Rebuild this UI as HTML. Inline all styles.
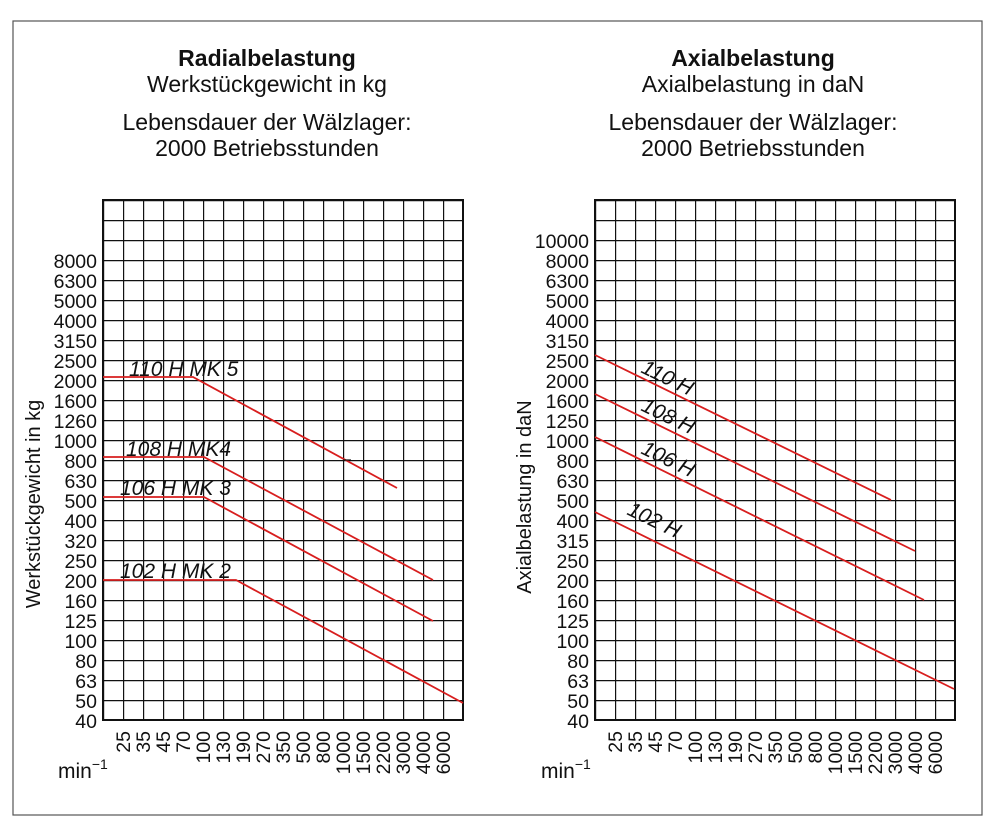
<!DOCTYPE html>
<html><head><meta charset="utf-8"><style>body{margin:0;background:#fff}</style></head><body>
<svg width="1000" height="835" xmlns="http://www.w3.org/2000/svg" font-family="Liberation Sans, sans-serif">
<defs>
<pattern id="gp" patternUnits="userSpaceOnUse" x="103" y="200" width="20" height="20">
<path d="M0 0H20M0 0V20" stroke="#111" stroke-width="2.4" fill="none"/>
</pattern>
<pattern id="gp2" patternUnits="userSpaceOnUse" x="595" y="200" width="20" height="20">
<path d="M0 0H20M0 0V20" stroke="#111" stroke-width="2.4" fill="none"/>
</pattern>
</defs>
<rect x="13" y="21" width="969" height="794" fill="none" stroke="#555" stroke-width="1.2"/>
<g text-anchor="middle" fill="#111">
<text x="267" y="66" font-size="23" font-weight="bold">Radialbelastung</text>
<text x="267" y="92" font-size="23">Werkstückgewicht in kg</text>
<text x="267" y="130" font-size="23">Lebensdauer der Wälzlager:</text>
<text x="267" y="156" font-size="23">2000 Betriebsstunden</text>
<text x="753" y="66" font-size="23" font-weight="bold">Axialbelastung</text>
<text x="753" y="92" font-size="23">Axialbelastung in daN</text>
<text x="753" y="130" font-size="23">Lebensdauer der Wälzlager:</text>
<text x="753" y="156" font-size="23">2000 Betriebsstunden</text>
</g>
<rect x="103" y="200" width="360" height="520" fill="url(#gp)"/>
<rect x="103" y="200" width="360" height="520" fill="none" stroke="#111" stroke-width="2"/>
<rect x="595" y="200" width="360" height="520" fill="url(#gp2)"/>
<rect x="595" y="200" width="360" height="520" fill="none" stroke="#111" stroke-width="2"/>

<g fill="#111" font-size="19.5" text-anchor="end">
<text x="97" y="268">8000</text><text x="97" y="288">6300</text><text x="97" y="308">5000</text><text x="97" y="328">4000</text><text x="97" y="348">3150</text><text x="97" y="368">2500</text><text x="97" y="388">2000</text><text x="97" y="408">1600</text><text x="97" y="428">1260</text><text x="97" y="448">1000</text><text x="97" y="468">800</text><text x="97" y="488">630</text><text x="97" y="508">500</text><text x="97" y="528">400</text><text x="97" y="548">320</text><text x="97" y="568">250</text><text x="97" y="588">200</text><text x="97" y="608">160</text><text x="97" y="628">125</text><text x="97" y="648">100</text><text x="97" y="668">80</text><text x="97" y="688">63</text><text x="97" y="708">50</text><text x="97" y="728">40</text>

<text x="589" y="248">10000</text><text x="589" y="268">8000</text><text x="589" y="288">6300</text><text x="589" y="308">5000</text><text x="589" y="328">4000</text><text x="589" y="348">3150</text><text x="589" y="368">2500</text><text x="589" y="388">2000</text><text x="589" y="408">1600</text><text x="589" y="428">1250</text><text x="589" y="448">1000</text><text x="589" y="468">800</text><text x="589" y="488">630</text><text x="589" y="508">500</text><text x="589" y="528">400</text><text x="589" y="548">315</text><text x="589" y="568">250</text><text x="589" y="588">200</text><text x="589" y="608">160</text><text x="589" y="628">125</text><text x="589" y="648">100</text><text x="589" y="668">80</text><text x="589" y="688">63</text><text x="589" y="708">50</text><text x="589" y="728">40</text>

<text transform="translate(130,731) rotate(-90)">25</text><text transform="translate(150,731) rotate(-90)">35</text><text transform="translate(170,731) rotate(-90)">45</text><text transform="translate(190,731) rotate(-90)">70</text><text transform="translate(210,731) rotate(-90)">100</text><text transform="translate(230,731) rotate(-90)">130</text><text transform="translate(250,731) rotate(-90)">190</text><text transform="translate(270,731) rotate(-90)">270</text><text transform="translate(290,731) rotate(-90)">350</text><text transform="translate(310,731) rotate(-90)">500</text><text transform="translate(330,731) rotate(-90)">800</text><text transform="translate(350,731) rotate(-90)">1000</text><text transform="translate(370,731) rotate(-90)">1500</text><text transform="translate(390,731) rotate(-90)">2200</text><text transform="translate(410,731) rotate(-90)">3000</text><text transform="translate(430,731) rotate(-90)">4000</text><text transform="translate(450,731) rotate(-90)">6000</text>

<text transform="translate(622,731) rotate(-90)">25</text><text transform="translate(642,731) rotate(-90)">35</text><text transform="translate(662,731) rotate(-90)">45</text><text transform="translate(682,731) rotate(-90)">70</text><text transform="translate(702,731) rotate(-90)">100</text><text transform="translate(722,731) rotate(-90)">130</text><text transform="translate(742,731) rotate(-90)">190</text><text transform="translate(762,731) rotate(-90)">270</text><text transform="translate(782,731) rotate(-90)">350</text><text transform="translate(802,731) rotate(-90)">500</text><text transform="translate(822,731) rotate(-90)">800</text><text transform="translate(842,731) rotate(-90)">1000</text><text transform="translate(862,731) rotate(-90)">1500</text><text transform="translate(882,731) rotate(-90)">2200</text><text transform="translate(902,731) rotate(-90)">3000</text><text transform="translate(922,731) rotate(-90)">4000</text><text transform="translate(942,731) rotate(-90)">6000</text>
</g>

<g stroke="#d81e1e" stroke-width="1.8" fill="none">
<polyline points="103,377 193,377 397,488"/>
<polyline points="103,457 204,457 433,580"/>
<polyline points="103,497 204,497 433,621"/>
<polyline points="103,580 236,580 463,703"/>
<line x1="595" y1="355" x2="891" y2="500"/>
<line x1="595" y1="394" x2="915" y2="551"/>
<line x1="595" y1="437" x2="924" y2="600"/>
<line x1="595" y1="512" x2="954" y2="689"/>
</g>
<line x1="343" y1="460" x2="351" y2="460" stroke="#111" stroke-width="1.2"/>
<g font-size="21" font-style="italic" fill="#111">
<text x="129" y="376">110 H MK 5</text>
<text x="126" y="456">108 H MK4</text>
<text x="120" y="495">106 H MK 3</text>
<text x="120" y="578">102 H MK 2</text>
<text transform="translate(640,372) rotate(26)">110 H</text>
<text transform="translate(640,410) rotate(26)">108 H</text>
<text transform="translate(640,453) rotate(26)">106 H</text>
<text transform="translate(626,514) rotate(26)">102 H</text>
</g>
<g font-size="20" fill="#111" text-anchor="middle">
<text transform="translate(40,504) rotate(-90)">Werkstückgewicht in kg</text>
<text transform="translate(531,497) rotate(-90)">Axialbelastung in daN</text>
</g>
<g font-size="21" fill="#111">
<text x="58" y="778">min<tspan font-size="14" dy="-9">−1</tspan></text>
<text x="541" y="778">min<tspan font-size="14" dy="-9">−1</tspan></text>
</g>
</svg>
</body></html>
